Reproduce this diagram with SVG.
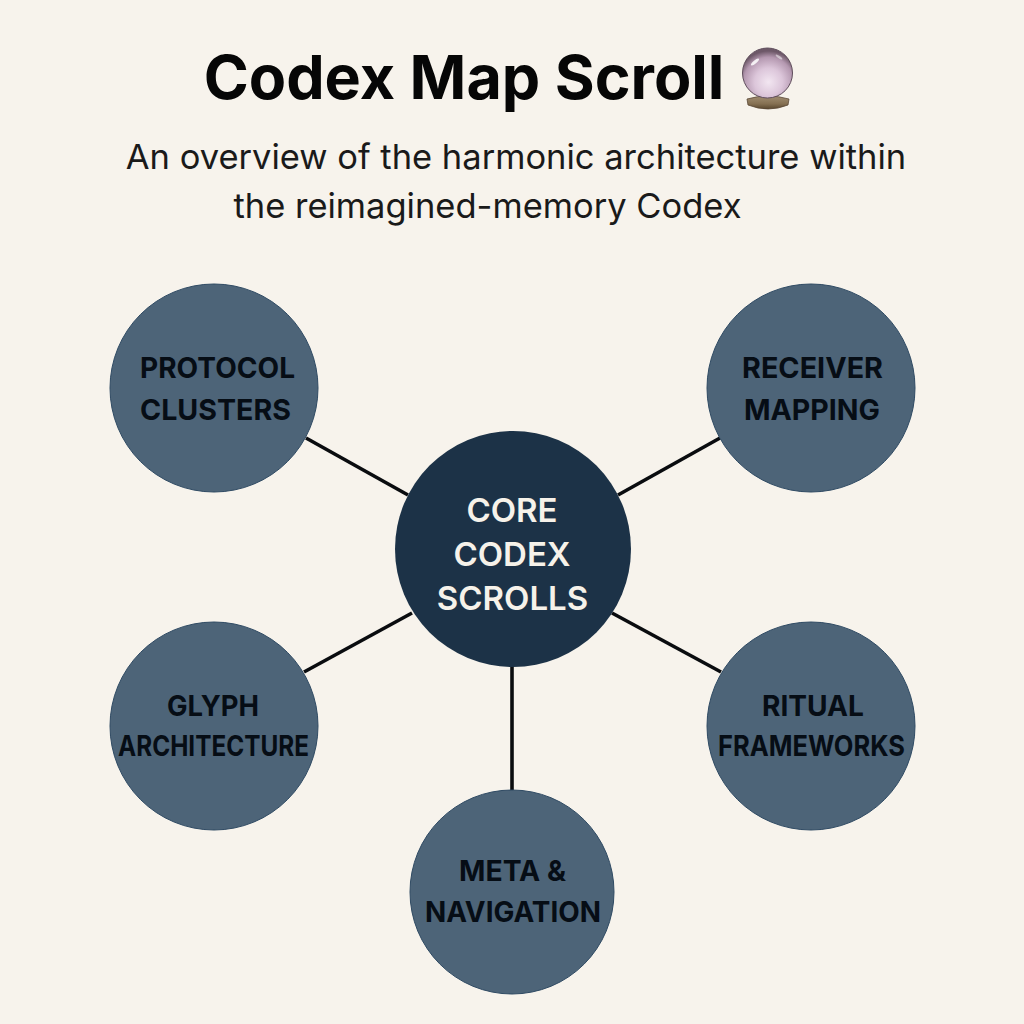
<svg xmlns="http://www.w3.org/2000/svg" width="1024" height="1024" viewBox="0 0 1024 1024">
<defs>
<radialGradient id="orb" cx="0.52" cy="0.68" r="0.62"><stop offset="0" stop-color="#f2e6f1"/><stop offset="0.45" stop-color="#dcc6da"/><stop offset="0.8" stop-color="#b498b0"/><stop offset="1" stop-color="#6d5868"/></radialGradient>
<linearGradient id="base" x1="0" y1="0" x2="0" y2="1"><stop offset="0" stop-color="#a08d72"/><stop offset="0.6" stop-color="#857052"/><stop offset="1" stop-color="#59472f"/></linearGradient>
</defs>
<style>
text{font-family:"Inter","Liberation Sans",sans-serif;text-anchor:middle}
.sub{font-size:34.5px;fill:#1a1a1a}
.sat{fill:#4d6478;stroke:#2f4a63;stroke-width:1}
.lab{font-size:29px;font-weight:700;fill:#060d15}
.core{font-size:33px;font-weight:600;fill:#f6f2ea}
.con{stroke:#0a0c0f;stroke-width:3.6;fill:none}
</style>
<rect width="1024" height="1024" fill="#f7f3ec"/>
<text id="title" x="464" y="99" style="font-size:61px;font-weight:700;fill:#060606">Codex Map Scroll</text>
<g id="orb-icon">
<path d="M747 99 Q768 93 789 99 L788 105 Q768 113 748 105 Z" fill="url(#base)" stroke="#5a4836" stroke-width=".8"/>
<circle cx="767.500" cy="73" r="25" fill="url(#orb)" stroke="#5f4d5c" stroke-width="1"/>
<ellipse cx="755" cy="62" rx="5" ry="1.600" fill="#fff" opacity=".85" transform="rotate(-40 755 62)"/>
<ellipse cx="779" cy="57" rx="4" ry="1.200" fill="#fff" opacity=".5" transform="rotate(35 779 57)"/>
</g>
<text class="sub" x="516" y="169">An overview of the harmonic architecture within</text>
<text class="sub" x="487.500" y="218">the reimagined-memory Codex</text>
<g id="connectors">
<line class="con" x1="306" y1="438" x2="408" y2="495"/>
<line class="con" x1="720" y1="438" x2="618" y2="495"/>
<line class="con" x1="304" y1="672" x2="412" y2="613"/>
<line class="con" x1="721" y1="672" x2="612" y2="613"/>
<line class="con" x1="512" y1="667" x2="512" y2="790"/>
</g>
<g id="protocol-clusters"><circle class="sat" cx="214" cy="388" r="104"/><text class="lab" x="217.500" y="378" textLength="155" lengthAdjust="spacingAndGlyphs">PROTOCOL</text><text class="lab" x="215.500" y="420" textLength="151" lengthAdjust="spacingAndGlyphs">CLUSTERS</text></g>
<g id="receiver-mapping"><circle class="sat" cx="811" cy="388" r="104"/><text class="lab" x="812.500" y="378" textLength="141" lengthAdjust="spacingAndGlyphs">RECEIVER</text><text class="lab" x="812" y="420" textLength="136" lengthAdjust="spacingAndGlyphs">MAPPING</text></g>
<g id="glyph-architecture"><circle class="sat" cx="214" cy="726" r="104"/><text class="lab" x="213" y="716" textLength="92" lengthAdjust="spacingAndGlyphs">GLYPH</text><text class="lab" x="213.500" y="756" textLength="191" lengthAdjust="spacingAndGlyphs">ARCHITECTURE</text></g>
<g id="ritual-frameworks"><circle class="sat" cx="811" cy="726" r="104"/><text class="lab" x="813" y="716" textLength="102" lengthAdjust="spacingAndGlyphs">RITUAL</text><text class="lab" x="811.500" y="756" textLength="187" lengthAdjust="spacingAndGlyphs">FRAMEWORKS</text></g>
<g id="meta-navigation"><circle class="sat" cx="512" cy="892" r="102"/><text class="lab" x="512.500" y="881" textLength="107" lengthAdjust="spacingAndGlyphs">META &amp;</text><text class="lab" x="513" y="922" textLength="176" lengthAdjust="spacingAndGlyphs">NAVIGATION</text></g>
<g id="core"><circle cx="513" cy="549" r="118" fill="#1c3247"/><text class="core" x="512" y="522">CORE</text><text class="core" x="512" y="566">CODEX</text><text class="core" x="512.500" y="610">SCROLLS</text></g>
</svg>
